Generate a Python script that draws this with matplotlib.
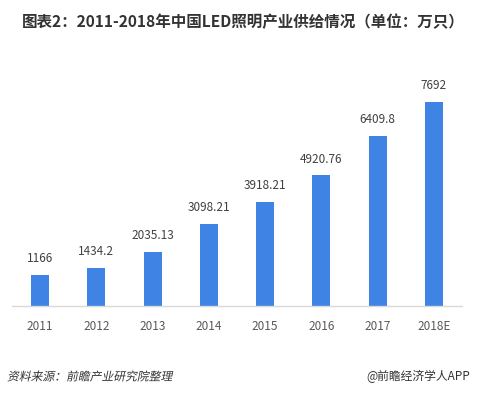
import matplotlib
matplotlib.use('Agg')
import matplotlib.pyplot as plt
import numpy as np
from matplotlib.textpath import TextPath
from matplotlib.patches import PathPatch
from matplotlib.font_manager import FontProperties
from matplotlib.transforms import Affine2D

plt.rcParams['font.family'] = ['Noto Sans CJK SC', 'DejaVu Sans']

# --- data ---
years = ['2011', '2012', '2013', '2014', '2015', '2016', '2017', '2018E']
supply = [1166, 1434.2, 2035.13, 3098.21, 3918.21, 4920.76, 6409.8, 7692]
value_labels = ['1166', '1434.2', '2035.13', '3098.21', '3918.21', '4920.76', '6409.8', '7692']

BAR_COLOR = '#3f84e5'
TEXT_COLOR = '#404040'
DPI = 100

fig = plt.figure(figsize=(4.78, 3.94), dpi=DPI)
ax = fig.add_axes([12 / 478, 88 / 394, 450 / 478, 239 / 394])

x = np.arange(len(years))
bars = ax.bar(x, supply, width=0.32, color=BAR_COLOR, zorder=2)

for rect, lab in zip(bars, value_labels):
    ax.annotate(lab, xy=(rect.get_x() + rect.get_width() / 2, rect.get_height()),
                xytext=(0, 7), textcoords='offset points',
                ha='center', va='bottom', fontsize=8.5, color=TEXT_COLOR)

ax.set_xlim(-0.5, len(years) - 0.5)
ax.set_ylim(0, 9000)
ax.set_xticks(x)
ax.set_xticklabels(years, fontsize=8.5, color='#595959')
ax.tick_params(axis='x', length=0, pad=10)
ax.set_yticks([])
for side in ['top', 'right', 'left']:
    ax.spines[side].set_visible(False)
ax.spines['bottom'].set_color('#d9d9d9')
ax.spines['bottom'].set_linewidth(1.0)

fig.text(22 / 478, 1 - 22 / 394, '图表2：2011-2018年中国LED照明产业供给情况（单位：万只）',
         fontsize=11.2, fontweight='bold', color='#333333', ha='left', va='center')

# source line, slanted by hand since the CJK font has no italic face
fp = FontProperties(family='Noto Sans CJK SC')
tp = TextPath((0, 0), '资料来源：前瞻产业研究院整理', size=8.5, prop=fp)
tr = Affine2D().scale(DPI / 72).skew_deg(12, 0).translate(7, 394 - 376 - 4.5)
fig.patches.append(PathPatch(tp, transform=tr, facecolor='#333333',
                             edgecolor='none', figure=fig))

fig.text(470 / 478, 1 - 376 / 394, '@前瞻经济学人APP',
         fontsize=8.5, color='#333333', ha='right', va='center')

fig.savefig('out.png', dpi=DPI)
